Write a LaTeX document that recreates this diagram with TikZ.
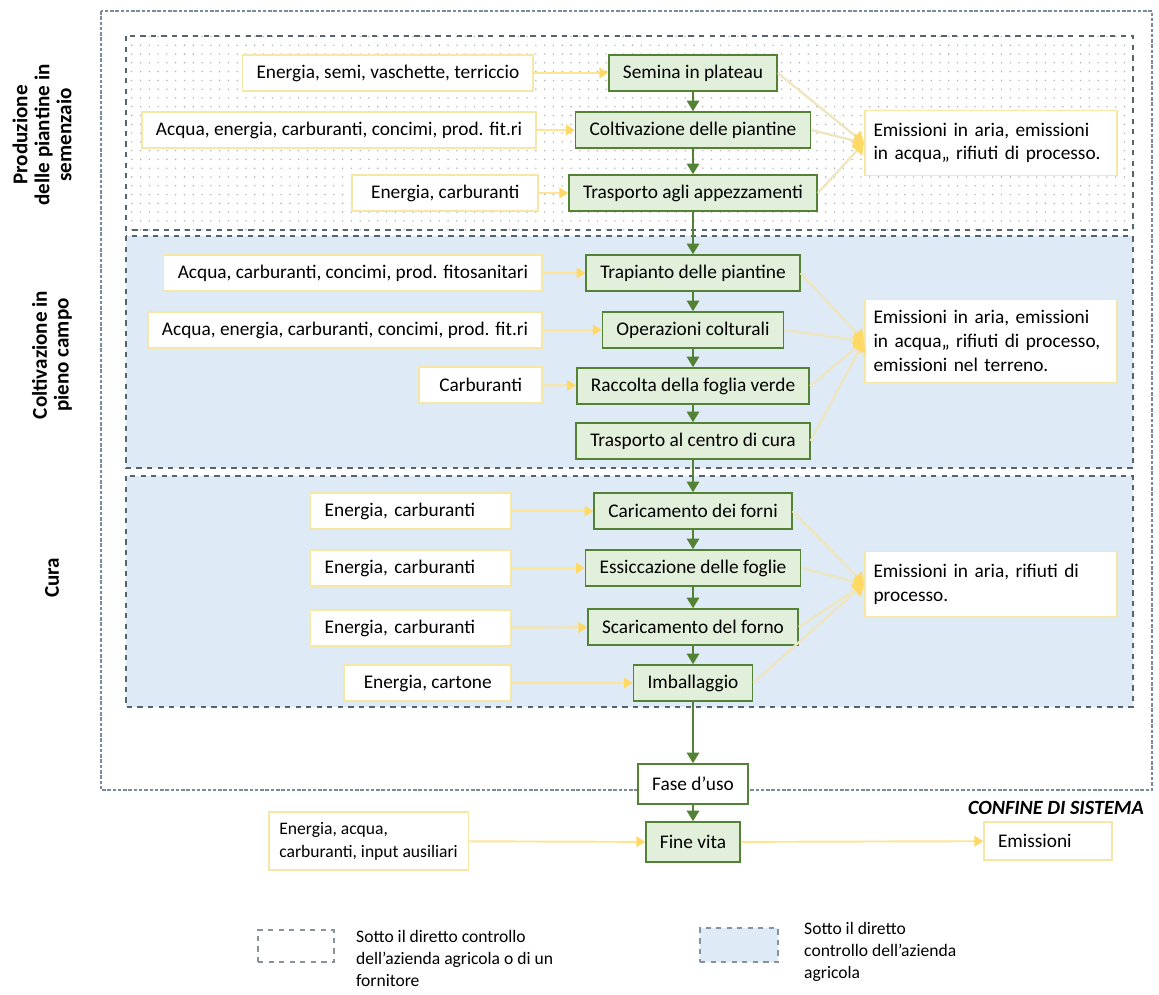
\documentclass[tikz,border=0pt]{standalone}
\usepackage{fontspec}
\setmainfont{Carlito}
\usetikzlibrary{arrows.meta,patterns.meta}

\definecolor{fasefill}{HTML}{E2EFDA}
\definecolor{faseline}{HTML}{548235}
\definecolor{inputline}{HTML}{F6E7A6}
\definecolor{inputarrow}{HTML}{FFD966}
\definecolor{emisline}{HTML}{EFE5BE}
\definecolor{areafill}{HTML}{DEEAF6}
\definecolor{arealine}{HTML}{56646F}
\definecolor{confine}{HTML}{7A8C99}

\begin{document}
\begin{tikzpicture}[x=0.02cm, y=-0.02cm, font=\fontsize{11}{13.5}\selectfont,
    fase/.style={draw=faseline, fill=fasefill, line width=0.9pt, minimum height=0.72cm, inner xsep=8pt},
    input/.style={draw=inputline, fill=white, line width=0.9pt, minimum height=0.72cm, inner xsep=8pt},
    emis/.style={input, align=left, text width=4.7cm, inner xsep=5pt},
    area/.style={draw=arealine, dashed, line width=0.6pt},
    flusso/.style={draw=faseline, line width=1.1pt, -{Triangle[length=6pt,width=7pt]}},
    ingresso/.style={draw=inputarrow!70, line width=1.1pt, -{Triangle[length=5pt,width=6pt,color=inputarrow]}},
    uscita/.style={draw=emisline, line width=1.3pt, -{Triangle[length=6pt,width=8pt,color=inputarrow]}},
    fascia/.style={rotate=90, align=center, font=\fontsize{12}{12.5}\selectfont\bfseries},
    legenda/.style={anchor=west, align=left, font=\fontsize{10}{12.5}\selectfont}]

  \useasboundingbox (0,0) rectangle (1159,994);
  \draw[draw=confine, dash pattern=on 2pt off 1pt, line width=0.6pt] (101,11) rectangle (1152,790);
  \draw[area, pattern={Dots[radius=0.45pt, distance=5pt]}, pattern color=gray!65] (126,36) rectangle (1133,230);
  \draw[area, fill=areafill] (126,236) rectangle (1133,468);
  \draw[area, fill=areafill] (126,476) rectangle (1133,707);

  \node[fascia] (semenzaio) at (42,135) {Produzione\\delle piantine in\\semenzaio};
  \node[fascia] (campo) at (52,355) {Coltivazione in\\pieno campo};
  \node[fascia] (cura) at (52,578) {Cura};

  \node[fase] (semina) at (693,73) {Semina in plateau};
  \node[fase] (coltiv) at (693,130) {Coltivazione delle piantine};
  \node[fase] (traspa) at (693,193) {Trasporto agli appezzamenti};
  \node[fase] (trapia) at (693,273) {Trapianto delle piantine};
  \node[fase] (operaz) at (693,330) {Operazioni colturali};
  \node[fase] (raccol) at (693,386) {Raccolta della foglia verde};
  \node[fase] (traspc) at (693,441) {Trasporto al centro di cura};
  \node[fase] (carica) at (693,511) {Caricamento dei forni};
  \node[fase] (essicc) at (693,568) {Essiccazione delle foglie};
  \node[fase] (scaric) at (693,627) {Scaricamento del forno};
  \node[fase] (imball) at (693,683) {Imballaggio};
  \node[fase, fill=white, minimum height=0.8cm] (uso) at (693,784) {Fase d’uso};
  \node[fase, minimum height=0.8cm] (fine) at (693,842) {Fine vita};

  \node[input, anchor=east] (in1) at (534,73) {Energia, semi, vaschette, terriccio};
  \node[input, anchor=east] (in2) at (537,130) {Acqua, energia, carburanti, concimi, prod. fit.ri};
  \node[input, anchor=east, minimum width=3.72cm] (in3) at (539,193) {Energia, carburanti};
  \node[input, anchor=east] (in4) at (543,273) {Acqua, carburanti, concimi, prod. fitosanitari};
  \node[input, anchor=east] (in5) at (543,330) {Acqua, energia, carburanti, concimi, prod. fit.ri};
  \node[input, anchor=east, minimum width=2.46cm] (in6) at (543,385) {Carburanti};
  \node[input, anchor=east, text width=3.45cm, align=left] (in7) at (512,511) {Energia, carburanti};
  \node[input, anchor=east, text width=3.45cm, align=left] (in8) at (512,568) {Energia, carburanti};
  \node[input, anchor=east, text width=3.45cm, align=left] (in9) at (512,628) {Energia, carburanti};
  \node[input, anchor=east, minimum width=3.34cm] (in10) at (512,683) {Energia, cartone};
  \node[input, anchor=west, align=left, minimum height=1.16cm, inner xsep=6pt, font=\fontsize{10}{13}\selectfont] (in11) at (268,841) {Energia, acqua,\\carburanti, input ausiliari};

  \node[emis, minimum height=1.3cm] (emis1) at (991,143) {Emissioni in aria, emissioni\\in acqua,, rifiuti di processo.};
  \node[emis, minimum height=1.66cm] (emis2) at (991,341) {Emissioni in aria, emissioni\\in acqua,, rifiuti di processo,\\emissioni nel terreno.};
  \node[emis, minimum height=1.3cm] (emis3) at (991,584) {Emissioni in aria, rifiuti di\\processo.};
  \node[input, text width=2.0cm, align=left, minimum height=0.76cm] (emis4) at (1048,841) {Emissioni};

  \node[anchor=east, font=\fontsize{11.5}{13}\selectfont\bfseries\itshape] (confinetxt) at (1150,808) {CONFINE DI SISTEMA};

  \node[area, draw=arealine!70, fill=white, minimum width=1.52cm, minimum height=0.64cm] (leg1) at (296,946) {};
  \node[legenda] (leg1txt) at (350,958) {Sotto il diretto controllo\\dell’azienda agricola o di un\\fornitore};
  \node[area, draw=arealine!70, fill=areafill, minimum width=1.56cm, minimum height=0.68cm] (leg2) at (739,945) {};
  \node[legenda] (leg2txt) at (798,952) {Sotto il diretto\\controllo dell’azienda\\agricola};

  \foreach \a/\b in {semina/coltiv, coltiv/traspa, traspa/trapia, trapia/operaz, operaz/raccol, raccol/traspc, traspc/carica, carica/essicc, essicc/scaric, scaric/imball, imball/uso, uso/fine}
    \draw[flusso] (\a) -- (\b);
  \foreach \a/\b in {in1/semina, in2/coltiv, in3/traspa, in4/trapia, in5/operaz, in6/raccol, in7/carica, in8/essicc, in9/scaric, in10/imball, in11/fine, fine/emis4}
    \draw[ingresso] (\a) -- (\b);
  \foreach \a in {semina, coltiv, traspa}
    \draw[uscita] (\a.east) -- (emis1.west);
  \foreach \a in {trapia, operaz, raccol, traspc}
    \draw[uscita] (\a.east) -- (emis2.west);
  \foreach \a in {carica, essicc, scaric, imball}
    \draw[uscita] (\a.east) -- (emis3.west);
\end{tikzpicture}
\end{document}
